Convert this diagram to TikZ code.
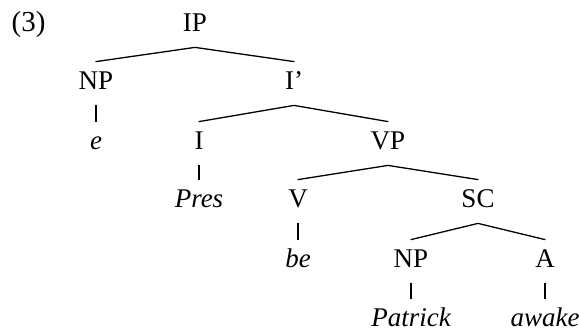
\documentclass[tikz,border=0pt]{standalone}
\usepackage{fontspec}
\setmainfont{Liberation Serif}
\usepackage{tikz}

\begin{document}
\begin{tikzpicture}[x=0.5pt,y=-0.5pt,line cap=round,line join=round,
    cat/.style={inner sep=0pt,text height=14pt,text depth=7.5pt,anchor=base,font=\fontsize{13.5}{16}\selectfont},
    leaf/.style={cat,font=\fontsize{13.5}{16}\selectfont\itshape},
    edge/.style={line width=0.65pt,color=black}]
        \useasboundingbox (0,0) rectangle (579,331);
        \node[cat,font=\fontsize{14.5}{17}\selectfont] (ex) at (28.5,32) {(3)};
        \node[cat] (ip) at (195,32) {IP};
        \node[cat] (np) at (96,90) {NP};
        \node[cat] (ibar) at (294,90) {I'};
        \node[leaf] (e) at (96,150) {e};
        \node[cat] (i) at (199,150) {I};
        \node[cat] (vp) at (388,150) {VP};
        \node[leaf] (pres) at (199,208) {Pres};
        \node[cat] (v) at (298,208) {V};
        \node[cat] (sc) at (478,208) {SC};
        \node[leaf] (be) at (298,268) {be};
        \node[cat] (npb) at (411,268) {NP};
        \node[cat] (a) at (545,268) {A};
        \node[leaf] (patrick) at (411,327) {Patrick};
        \node[leaf] (awake) at (545,327) {awake};
        \draw[edge] (np.north) -- (ip.south) -- (ibar.north);
        \draw[edge] (np.south) -- (e.north);
        \draw[edge] (i.north) -- (ibar.south) -- (vp.north);
        \draw[edge] (i.south) -- (pres.north);
        \draw[edge] (v.north) -- (vp.south) -- (sc.north);
        \draw[edge] (v.south) -- (be.north);
        \draw[edge] (npb.north) -- (sc.south) -- (a.north);
        \draw[edge] (npb.south) -- (patrick.north);
        \draw[edge] (a.south) -- (awake.north);
      \end{tikzpicture}
\end{document}
